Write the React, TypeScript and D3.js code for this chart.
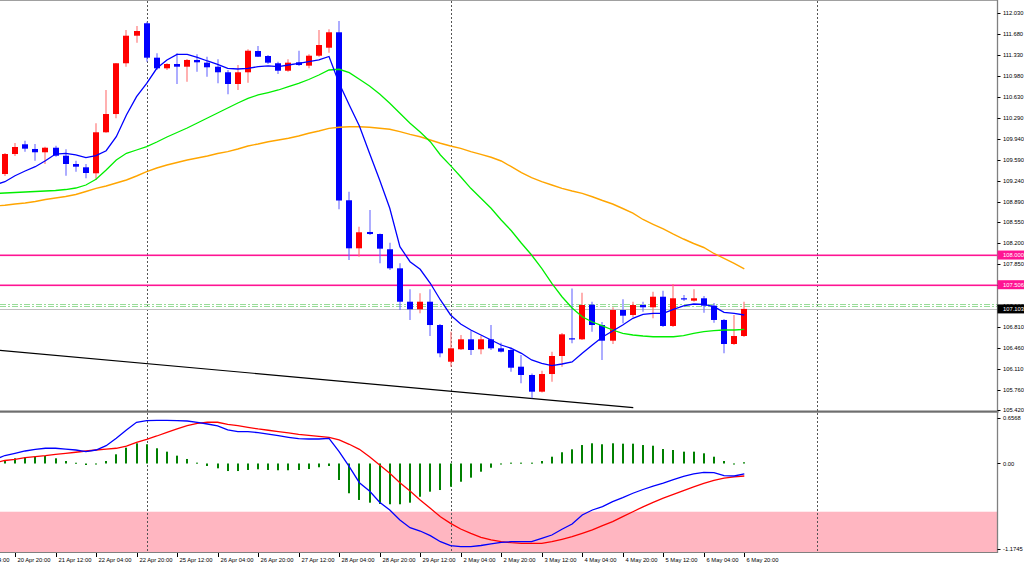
import React, { useEffect } from 'react';
import * as d3 from 'd3';

// ---------------- DATA ----------------
// H4 bars, index 0 = 20 Apr 20:00, index 72 = 6 May 20:00
const FIRST_BAR = -1;
const opens = [109.349,109.682,109.844,109.766,109.711,109.787,109.654,109.516,109.461,109.361,110.044,110.348,111.193,111.652,111.859,111.286,111.109,111.181,111.136,111.248,111.203,111.136,111.043,110.848,111.043,111.397,111.314,111.193,111.069,111.209,111.153,111.319,111.452,111.709,108.912,108.112,108.384,108.350,108.096,107.779,107.223,107.097,107.223,106.835,106.224,106.431,106.597,106.431,106.597,106.447,106.419,106.141,106.003,105.725,106.019,106.319,106.614,106.597,107.173,106.835,106.574,107.085,107.002,107.168,107.130,107.306,106.819,107.280,107.240,107.280,107.157,106.919,106.519,106.652];
const highs = [109.699,109.866,109.904,109.849,109.804,109.821,109.761,109.571,109.516,110.194,110.748,111.198,111.747,111.814,111.885,111.359,111.193,111.359,111.264,111.342,111.302,111.259,111.081,111.164,111.426,111.481,111.331,111.219,111.259,111.402,111.342,111.747,111.759,111.897,109.055,108.472,108.750,108.358,108.206,107.862,107.430,107.363,107.430,106.852,106.724,106.669,106.740,106.652,106.835,106.541,106.461,106.336,106.028,106.074,106.391,106.702,107.445,107.373,107.223,106.885,107.130,107.263,107.223,107.223,107.390,107.406,107.518,107.335,107.430,107.318,107.202,106.935,107.002,107.223];
const lows = [109.316,109.649,109.721,109.571,109.516,109.637,109.321,109.388,109.278,109.250,110.037,110.277,111.136,111.536,111.219,111.081,111.081,110.848,110.886,111.053,110.969,110.860,110.676,110.748,110.870,111.298,111.181,111.014,111.053,111.148,111.109,111.302,111.369,108.762,107.918,107.972,108.334,107.862,107.751,107.085,106.919,107.030,106.652,106.298,106.141,106.419,106.336,106.347,106.419,106.377,106.058,105.865,105.615,105.711,105.891,106.141,106.531,106.586,106.724,106.253,106.519,106.864,106.963,107.057,106.947,106.802,106.802,107.235,107.223,107.040,106.874,106.364,106.502,106.636];
const closes = [109.682,109.799,109.771,109.711,109.787,109.654,109.516,109.471,109.366,110.044,110.348,111.193,111.652,111.730,111.286,111.109,111.181,111.136,111.248,111.209,111.126,111.043,110.848,111.043,111.402,111.302,111.203,111.069,111.203,111.164,111.319,111.497,111.709,108.908,108.112,108.379,108.350,108.106,107.779,107.223,107.097,107.223,106.835,106.364,106.447,106.597,106.419,106.597,106.447,106.391,106.124,106.003,105.725,106.019,106.319,106.680,106.597,107.168,106.835,106.574,107.085,106.990,107.168,107.130,107.306,106.819,107.280,107.263,107.280,107.157,106.919,106.519,106.652,107.103];

// moving averages, first value at bar index -2
const LINE_FIRST = -2;
const maFast = [109.166,109.221,109.321,109.399,109.471,109.571,109.682,109.694,109.666,109.621,109.654,109.737,109.970,110.332,110.636,110.860,111.109,111.248,111.342,111.342,111.292,111.231,111.176,111.109,111.098,111.109,111.136,111.148,111.136,111.164,111.193,111.219,111.248,111.306,110.860,110.498,110.149,109.694,109.250,108.778,108.139,107.889,107.763,107.530,107.252,107.002,106.852,106.752,106.669,106.586,106.502,106.447,106.364,106.253,106.198,106.158,106.186,106.219,106.364,106.502,106.636,106.735,106.835,106.947,107.013,107.030,107.030,107.097,107.152,107.185,107.180,107.140,107.047,107.030,107.002];
const maMid = [109.025,109.033,109.041,109.050,109.058,109.066,109.075,109.091,109.116,109.166,109.261,109.416,109.583,109.694,109.749,109.804,109.882,109.966,110.040,110.115,110.199,110.282,110.365,110.448,110.532,110.610,110.665,110.706,110.748,110.803,110.860,110.923,110.998,111.081,111.093,111.036,110.926,110.815,110.681,110.527,110.360,110.194,110.049,109.887,109.666,109.488,109.304,109.111,108.945,108.778,108.584,108.405,108.196,108.001,107.779,107.530,107.306,107.118,106.973,106.885,106.819,106.752,106.697,106.669,106.652,106.640,106.640,106.640,106.657,106.697,106.724,106.740,106.752,106.752,106.764];
const maSlow = [108.817,108.828,108.850,108.867,108.892,108.925,108.950,108.975,109.008,109.058,109.111,109.150,109.200,109.250,109.316,109.388,109.449,109.499,109.541,109.583,109.616,109.649,109.691,109.721,109.766,109.816,109.849,109.887,109.916,109.944,109.982,110.027,110.065,110.110,110.127,110.137,110.137,110.127,110.110,110.094,110.054,110.010,109.970,109.916,109.861,109.816,109.777,109.721,109.677,109.628,109.566,109.471,109.371,109.288,109.221,109.166,109.111,109.066,109.028,108.971,108.908,108.850,108.775,108.697,108.592,108.512,108.434,108.347,108.267,108.192,108.126,108.026,107.943,107.863,107.768];

// MACD pane
const HIST_FIRST = -1;
const macdHist = [0.046,0.069,0.082,0.090,0.100,0.069,0.033,0.010,-0.020,-0.010,0.033,0.122,0.210,0.268,0.255,0.202,0.157,0.104,0.060,0.011,-0.033,-0.064,-0.100,-0.100,-0.086,-0.077,-0.086,-0.090,-0.090,-0.086,-0.073,-0.050,-0.033,-0.219,-0.395,-0.484,-0.520,-0.537,-0.541,-0.541,-0.520,-0.441,-0.374,-0.352,-0.308,-0.242,-0.188,-0.109,-0.056,-0.011,0.011,0.011,0.011,0.033,0.090,0.149,0.188,0.245,0.268,0.255,0.268,0.263,0.263,0.245,0.236,0.192,0.179,0.157,0.157,0.135,0.090,0.033,-0.005,0.016];
const macdMain = [0.053,0.106,0.135,0.166,0.188,0.202,0.202,0.192,0.179,0.157,0.179,0.236,0.334,0.445,0.547,0.568,0.573,0.573,0.568,0.564,0.547,0.524,0.498,0.445,0.422,0.422,0.409,0.391,0.369,0.348,0.329,0.325,0.325,0.334,0.157,-0.042,-0.255,-0.365,-0.515,-0.617,-0.750,-0.852,-0.896,-0.958,-1.038,-1.091,-1.104,-1.104,-1.088,-1.068,-1.046,-1.038,-1.038,-1.038,-0.993,-0.949,-0.873,-0.803,-0.683,-0.617,-0.573,-0.507,-0.454,-0.395,-0.345,-0.300,-0.262,-0.215,-0.172,-0.138,-0.117,-0.122,-0.162,-0.166,-0.139];
const macdSignal = [0.007,0.040,0.056,0.077,0.090,0.104,0.122,0.135,0.149,0.166,0.179,0.192,0.202,0.232,0.281,0.321,0.365,0.414,0.458,0.502,0.533,0.547,0.547,0.520,0.502,0.480,0.458,0.441,0.422,0.405,0.387,0.374,0.361,0.348,0.312,0.255,0.188,0.090,-0.020,-0.130,-0.255,-0.365,-0.484,-0.595,-0.706,-0.794,-0.869,-0.926,-0.979,-1.015,-1.038,-1.051,-1.059,-1.059,-1.059,-1.038,-1.006,-0.971,-0.926,-0.882,-0.825,-0.772,-0.706,-0.640,-0.575,-0.515,-0.460,-0.410,-0.360,-0.310,-0.265,-0.225,-0.195,-0.178,-0.166];
const macdZoneLevel = -0.64;
const macdTickValues = [0.6568, 0.0, -1.1745];
const macdTickLabels = ['0.6568', '0.00', '-1.1745'];

// axes
const priceTickLabels = ['112.030','111.680','111.330','110.980','110.630','110.290','109.940','109.590','109.240','108.890','108.550','108.200','107.850','107.500','107.160','106.810','106.460','106.110','105.760','105.420'];
const timeTickFirst = -4;
const timeTickStep = 4;
const timeTickLabels = ['20 Apr 04:00','20 Apr 20:00','21 Apr 12:00','22 Apr 04:00','22 Apr 20:00','25 Apr 12:00','26 Apr 04:00','26 Apr 20:00','27 Apr 12:00','28 Apr 04:00','28 Apr 20:00','29 Apr 12:00','2 May 04:00','2 May 20:00','3 May 12:00','4 May 04:00','4 May 20:00','5 May 12:00','6 May 04:00','6 May 20:00'];

// objects
const levelLines = [108.000, 107.506];
const levelLabels = ['108.000', '107.506'];
const bidPrice = 107.103;
const bidLabel = '107.103';
const dashLevels = [107.185, 107.150];
const weekSeparators = [13, 43, 79.2];
const trendIdx = [-1.5, 61.04];
const trendPrice = [106.414, 105.458];

// ---------------- LAYOUT ----------------
const W = 1024;
const H = 567;
const RIGHT = 997.5;
const PANE_BOTTOM = 410;
const MACD_TOP = 414;
const MACD_BOTTOM = 552;
const FONT = '"Liberation Sans", Arial, sans-serif';
const FS = 5.8;
const PINK = '#ff1493';

const x = d3.scaleLinear().domain([0, 72]).range([15, 744.3]);
const yP = d3.scaleLinear().domain([105.42, 112.03]).range([410, 13]);
const yM = d3.scaleLinear().domain([-1.1745, 0.6568]).range([552, 414]);

const mkLine = (arr: number[], first: number, ys: d3.ScaleLinear<number, number>) =>
  d3.line<number>().x((_, k) => x(first + k)).y((v) => ys(v))(arr) || '';

export default function App() {
  useEffect(() => {
    document.body.style.margin = '0';
  }, []);

  const bars = opens.map((o, k) => ({ i: FIRST_BAR + k, o, h: highs[k], l: lows[k], c: closes[k] }));

  return (
    <svg width={W} height={H} style={{ position: 'absolute', left: 0, top: 0, background: '#fff' }} fontFamily={FONT}>
      <defs>
        <clipPath id="mainClip"><rect x={0} y={1} width={RIGHT} height={PANE_BOTTOM - 1} /></clipPath>
        <clipPath id="macdClip"><rect x={0} y={MACD_TOP - 1} width={RIGHT} height={MACD_BOTTOM - MACD_TOP + 1} /></clipPath>
      </defs>
      <rect x={0} y={0} width={W} height={H} fill="#ffffff" />

      {/* MACD zone */}
      <rect x={0} y={yM(macdZoneLevel)} width={RIGHT} height={MACD_BOTTOM - yM(macdZoneLevel)} fill="#ffb6c1" />

      {/* week separators */}
      {weekSeparators.map((s, k) => (
        <line key={'sep' + k} x1={Math.round(x(s)) + 0.5} x2={Math.round(x(s)) + 0.5} y1={1} y2={MACD_BOTTOM}
          stroke="#555" strokeWidth={1} strokeDasharray="2,2" shapeRendering="crispEdges" />
      ))}

      <g clipPath="url(#mainClip)">
        {/* horizontal level lines */}
        {levelLines.map((p, k) => (
          <rect key={'lvl' + k} x={0} y={Math.round(yP(p)) - 0.5} width={RIGHT} height={1.6} fill={PINK} />
        ))}
        {dashLevels.map((p, k) => (
          <line key={'dl' + k} x1={0} x2={RIGHT} y1={Math.round(yP(p)) + 0.5} y2={Math.round(yP(p)) + 0.5}
            stroke="#98dc98" strokeWidth={1} strokeDasharray="6,2,2,2" />
        ))}
        <line x1={0} x2={RIGHT} y1={Math.round(yP(bidPrice)) + 0.5} y2={Math.round(yP(bidPrice)) + 0.5}
          stroke="#c0c0c0" strokeWidth={1} />

        {/* trend line */}
        <line x1={x(trendIdx[0])} y1={yP(trendPrice[0])} x2={x(trendIdx[1])} y2={yP(trendPrice[1])}
          stroke="#000" strokeWidth={1.2} />

        {/* candles */}
        {bars.map((b) => {
          const cx = Math.round(x(b.i));
          const up = b.c >= b.o;
          const col = up ? '#ff0000' : '#0000ff';
          const wick = up ? '#ff7070' : '#6a6aff';
          const top = yP(Math.max(b.o, b.c));
          const hgt = Math.max(1.2, Math.abs(yP(b.o) - yP(b.c)));
          return (
            <g key={'c' + b.i}>
              <line x1={cx} x2={cx} y1={yP(b.h)} y2={yP(b.l)} stroke={wick} strokeWidth={1.1} />
              <rect x={cx - 3} y={top} width={6} height={hgt} fill={col} />
            </g>
          );
        })}

        {/* moving averages */}
        <path d={mkLine(maSlow, LINE_FIRST, yP)} fill="none" stroke="#ffa500" strokeWidth={1.4} />
        <path d={mkLine(maMid, LINE_FIRST, yP)} fill="none" stroke="#00ee00" strokeWidth={1.3} />
        <path d={mkLine(maFast, LINE_FIRST, yP)} fill="none" stroke="#0000ff" strokeWidth={1.3} />
      </g>

      <g clipPath="url(#macdClip)">
        {macdHist.map((v, k) => {
          const xi = Math.round(x(HIST_FIRST + k));
          const y0 = yM(0);
          const y1 = yM(v);
          return (
            <rect key={'h' + k} x={xi - 1} y={Math.min(y0, y1)} width={2} height={Math.max(1, Math.abs(y1 - y0))} fill="#008000" />
          );
        })}
        <path d={mkLine(macdSignal, LINE_FIRST, yM)} fill="none" stroke="#ff0000" strokeWidth={1.3} />
        <path d={mkLine(macdMain, LINE_FIRST, yM)} fill="none" stroke="#0000ff" strokeWidth={1.3} />
      </g>

      {/* frame */}
      <line x1={0} x2={RIGHT} y1={0.5} y2={0.5} stroke="#a0a0a0" strokeWidth={1} />
      <rect x={0} y={410.5} width={RIGHT + 1} height={2.2} fill="#6e6e6e" />
      <line x1={0} x2={RIGHT} y1={MACD_BOTTOM + 0.5} y2={MACD_BOTTOM + 0.5} stroke="#808080" strokeWidth={1} />
      <line x1={RIGHT} x2={RIGHT} y1={0} y2={MACD_BOTTOM + 1} stroke="#808080" strokeWidth={1.3} />

      {/* price axis */}
      {priceTickLabels.map((t, k) => {
        const yy = yP(parseFloat(t));
        return (
          <g key={'pt' + k}>
            <line x1={RIGHT} x2={RIGHT + 3} y1={Math.round(yy) + 0.5} y2={Math.round(yy) + 0.5} stroke="#000" strokeWidth={1} />
            <text x={1003} y={yy + 2.1} fontSize={FS} fill="#000">{t}</text>
          </g>
        );
      })}
      {levelLines.map((p, k) => (
        <g key={'ll' + k}>
          <rect x={RIGHT} y={yP(p) - 4.5} width={W - RIGHT} height={9} fill={PINK} />
          <text x={1003} y={yP(p) + 2.1} fontSize={FS} fill="#fff">{levelLabels[k]}</text>
        </g>
      ))}
      <rect x={RIGHT} y={yP(bidPrice) - 4.5} width={W - RIGHT} height={9} fill="#000" />
      <text x={1003} y={yP(bidPrice) + 2.1} fontSize={FS} fill="#fff">{bidLabel}</text>

      {/* MACD axis */}
      {macdTickValues.map((v, k) => {
        const yy = Math.min(Math.max(yM(v), 418), 548.5);
        return (
          <g key={'mt' + k}>
            <line x1={RIGHT} x2={RIGHT + 3} y1={Math.round(yy) + 0.5} y2={Math.round(yy) + 0.5} stroke="#000" strokeWidth={1} />
            <text x={1003} y={yy + 2.1} fontSize={FS} fill="#000">{macdTickLabels[k]}</text>
          </g>
        );
      })}

      {/* time axis */}
      {timeTickLabels.map((t, k) => {
        const xi = Math.round(x(timeTickFirst + k * timeTickStep)) + 0.5;
        return (
          <g key={'tt' + k}>
            <line x1={xi} x2={xi} y1={MACD_BOTTOM + 1} y2={MACD_BOTTOM + 5} stroke="#000" strokeWidth={1} />
            <text x={xi + 2} y={561.5} fontSize={FS} fill="#000">{t}</text>
          </g>
        );
      })}
    </svg>
  );
}
